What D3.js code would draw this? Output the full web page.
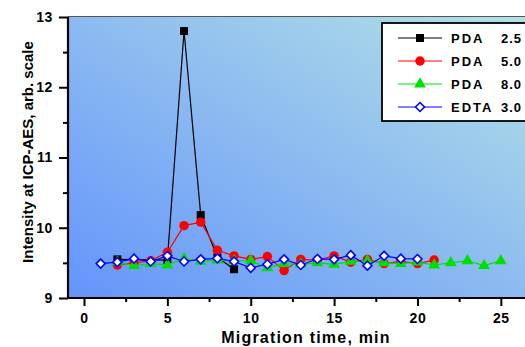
<!DOCTYPE html>
<html lang="en">
<head>
  <meta charset="UTF-8" />
  <title>ICP-AES intensity vs migration time</title>
  <script src="https://d3js.org/d3.v7.min.js"></script>
  <style>
    body {
      margin: 0;
      background: #fff;
      font-family: Arial, "Liberation Sans", sans-serif;
    }
    svg {
      display: block;
    }
    .tick text {
      font-weight: bold;
      font-size: 14px;
      letter-spacing: 0.6px;
      fill: #000;
    }
  </style>
</head>
<body>
<script>
// series values
const pda25Time = [2, 5, 6, 7, 8, 9];
const pda25Value = [9.55, 9.54, 12.80, 10.18, 9.58, 9.41];

const pda50Time = [2, 3, 4, 5, 6, 7, 8, 9, 10, 11, 12, 13, 14, 15, 16, 17, 18, 19, 20, 21];
const pda50Value = [9.47, 9.50, 9.53, 9.65, 10.03, 10.08, 9.68, 9.60, 9.55, 9.59, 9.39, 9.55, 9.54, 9.60, 9.51, 9.55, 9.49, 9.52, 9.49, 9.54];

const pda80Time = [2, 3, 4, 5, 6, 7, 8, 9, 10, 11, 12, 13, 14, 15, 16, 17, 18, 19, 20, 21, 22, 23, 24, 25];
const pda80Value = [9.51, 9.46, 9.49, 9.47, 9.56, 9.52, 9.54, 9.53, 9.53, 9.43, 9.49, 9.48, 9.50, 9.48, 9.52, 9.53, 9.50, 9.49, 9.51, 9.47, 9.50, 9.53, 9.46, 9.53];

const edtaTime = [1, 2, 3, 4, 5, 6, 7, 8, 9, 10, 11, 12, 13, 14, 15, 16, 17, 18, 19, 20];
const edtaValue = [9.49, 9.51, 9.56, 9.52, 9.60, 9.52, 9.55, 9.565, 9.52, 9.43, 9.48, 9.55, 9.47, 9.555, 9.55, 9.61, 9.46, 9.60, 9.56, 9.555];

const seriesNames = ["PDA", "PDA", "PDA", "EDTA"];
const seriesLabels = ["2.5", "5.0", "8.0", "3.0"];

const xTicks = [0, 5, 10, 15, 20, 25];
const yTicks = [9, 10, 11, 12, 13];

const width = 525, height = 347;
const margin = { top: 17, right: 0, bottom: 49, left: 68 };

const svg = d3.select("body").append("svg")
  .attr("width", width)
  .attr("height", height);

const x = d3.scaleLinear().domain([-0.96, 26.45]).range([margin.left, width - margin.right]);
const y = d3.scaleLinear().domain([9, 13]).range([height - margin.bottom, margin.top]);

// background gradient
const defs = svg.append("defs");
const grad = defs.append("linearGradient")
  .attr("id", "bg")
  .attr("x1", 0).attr("y1", 1).attr("x2", 1).attr("y2", 0);
grad.append("stop").attr("offset", "0%").attr("stop-color", "#6494fb");
grad.append("stop").attr("offset", "100%").attr("stop-color", "#b3e1e6");

svg.append("rect")
  .attr("x", margin.left)
  .attr("y", margin.top)
  .attr("width", width - margin.left - margin.right)
  .attr("height", height - margin.top - margin.bottom)
  .attr("fill", "url(#bg)");

// top frame line
svg.append("line")
  .attr("x1", margin.left).attr("x2", width)
  .attr("y1", margin.top - 0.5).attr("y2", margin.top - 0.5)
  .attr("stroke", "#555").attr("stroke-width", 1.2);

// axes
const xAxis = svg.append("g")
  .attr("transform", `translate(0,${height - margin.bottom})`)
  .call(d3.axisBottom(x).tickValues(xTicks).tickSize(8).tickPadding(7).tickFormat(d3.format("d")));
svg.append("g")
  .attr("transform", `translate(0,${height - margin.bottom})`)
  .call(d3.axisBottom(x).tickValues(d3.range(2.5, 26, 5)).tickSize(4).tickFormat(""))
  .call(g => g.select(".domain").remove());

const yAxis = svg.append("g")
  .attr("transform", `translate(${margin.left},0)`)
  .call(d3.axisLeft(y).tickValues(yTicks).tickSize(9).tickPadding(6).tickFormat(d3.format("d")));
svg.append("g")
  .attr("transform", `translate(${margin.left},0)`)
  .call(d3.axisLeft(y).tickValues(d3.range(9.5, 13, 1)).tickSize(5).tickFormat(""))
  .call(g => g.select(".domain").remove());

svg.selectAll(".domain").attr("stroke", "#000").attr("stroke-width", 2.2);
svg.selectAll(".tick line").attr("stroke", "#000").attr("stroke-width", 2);
xAxis.select(".domain").attr("d", `M${margin.left},0H${width}`);
yAxis.select(".domain").attr("d", `M0,${margin.top}V${height - margin.bottom}`);

// axis titles
svg.append("text")
  .attr("x", 306).attr("y", 343)
  .attr("text-anchor", "middle")
  .style("font-weight", "bold").style("font-size", "16px").style("letter-spacing", "1.2px")
  .text("Migration time, min");

svg.append("text")
  .attr("transform", `translate(33,152) rotate(-90)`)
  .attr("text-anchor", "middle")
  .style("font-weight", "bold").style("font-size", "15px")
  .text("Intensity at ICP-AES, arb. scale");

// series
const series = [
  { t: pda25Time, v: pda25Value, color: "#000", marker: "square" },
  { t: pda50Time, v: pda50Value, color: "#ff0000", marker: "circle" },
  { t: pda80Time, v: pda80Value, color: "#00e000", marker: "triangle" },
  { t: edtaTime, v: edtaValue, color: "#0000ff", marker: "diamond" }
];

// a square turned 45 degrees, equal width and height
const diamond = {
  draw(ctx, size) {
    const r = Math.sqrt(size / 2);
    ctx.moveTo(0, -r);
    ctx.lineTo(r, 0);
    ctx.lineTo(0, r);
    ctx.lineTo(-r, 0);
    ctx.closePath();
  }
};

const symbolType = {
  square: d3.symbolSquare,
  circle: d3.symbolCircle,
  triangle: d3.symbolTriangle,
  diamond: diamond
};
const symbolSize = { square: 64, circle: 70, triangle: 60, diamond: 40 };

function drawMarker(g, s, cx, cy) {
  const p = g.append("path")
    .attr("d", d3.symbol().type(symbolType[s.marker]).size(symbolSize[s.marker])())
    .attr("transform", `translate(${cx},${cy})`);
  if (s.marker === "diamond") {
    p.attr("fill", "#fff").attr("stroke", s.color).attr("stroke-width", 1.6);
  } else {
    p.attr("fill", s.color);
  }
}

const line = d3.line().x(d => x(d[0])).y(d => y(d[1]));

series.forEach(s => {
  const pts = s.t.map((t, i) => [t, s.v[i]]);
  const g = svg.append("g");
  g.append("path")
    .attr("d", line(pts))
    .attr("fill", "none")
    .attr("stroke", s.color)
    .attr("stroke-width", 1.2);
  pts.forEach(p => drawMarker(g, s, x(p[0]), y(p[1])));
});

// legend
const legend = svg.append("g");
legend.append("rect")
  .attr("x", 382).attr("y", 23)
  .attr("width", 160).attr("height", 98)
  .attr("fill", "#fff")
  .attr("stroke", "#000").attr("stroke-width", 1.8);

const rowY = [38, 61, 84, 107];
series.forEach((s, i) => {
  const ry = rowY[i];
  legend.append("line")
    .attr("x1", 398).attr("x2", 442)
    .attr("y1", ry).attr("y2", ry)
    .attr("stroke", s.color).attr("stroke-width", 1.2);
  drawMarker(legend, s, 420, ry);
  legend.append("text")
    .attr("x", 451).attr("y", ry + 5)
    .style("font-weight", "bold").style("font-size", "13px").style("letter-spacing", "2px")
    .text(seriesNames[i]);
  legend.append("text")
    .attr("x", 522).attr("y", ry + 5)
    .attr("text-anchor", "end")
    .style("font-weight", "bold").style("font-size", "13px").style("letter-spacing", "1px")
    .text(seriesLabels[i]);
});
</script>
</body>
</html>
